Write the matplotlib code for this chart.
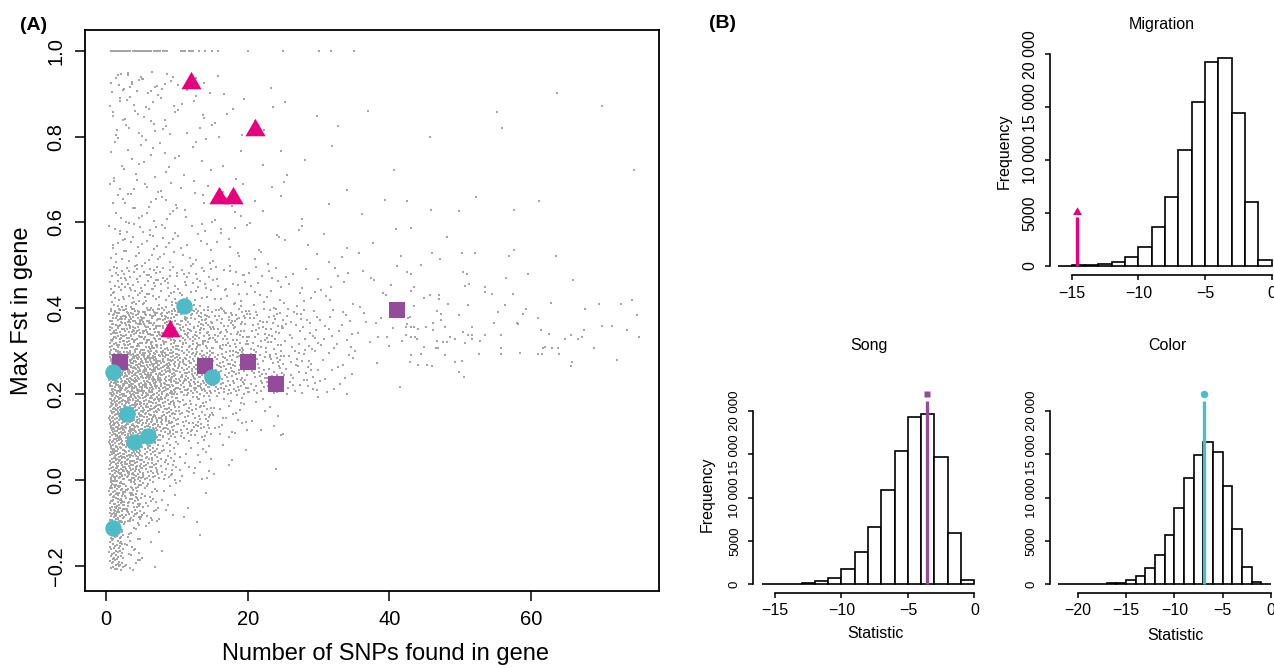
import numpy as np
import matplotlib
matplotlib.use("Agg")
import matplotlib.pyplot as plt
from matplotlib.path import Path

plt.rcParams['font.family'] = ['Liberation Sans', 'DejaVu Sans']

# ---------------- DATA ----------------
# Panel A: highlighted genes
tri_x = [12, 21, 16, 18, 9]
tri_y = [0.925, 0.816, 0.658, 0.658, 0.347]
sq_x = [2, 14, 20, 24, 41]
sq_y = [0.275, 0.265, 0.274, 0.223, 0.397]
circ_x = [11, 1, 15, 3, 6, 4, 1]
circ_y = [0.406, 0.252, 0.240, 0.153, 0.104, 0.088, -0.112]

# Panel A background genes: density (count of genes) per cell
cloud_x_edges = [0.5, 2.5, 5, 7.5, 10, 15, 20, 25, 30, 35, 41.5]
cloud_y_edges = [-0.21, -0.1, 0.0, 0.1, 0.2, 0.3, 0.4, 0.5, 0.6, 0.7, 0.8, 0.9, 0.95]
cloud_counts = [
    [69, 25, 5, 1, 1, 0, 0, 0, 0, 0],
    [90, 68, 27, 9, 5, 0, 0, 0, 0, 0],
    [99, 103, 64, 32, 23, 5, 1, 0, 0, 0],
    [108, 125, 103, 73, 78, 27, 9, 2, 0, 0],
    [112, 137, 125, 103, 146, 91, 65, 35, 15, 2],
    [70, 85, 80, 70, 110, 80, 55, 32, 18, 12],
    [25, 30, 28, 25, 35, 25, 18, 12, 9, 8],
    [12, 14, 13, 11, 15, 10, 7, 5, 4, 3],
    [8, 9, 9, 8, 10, 7, 4, 2, 2, 2],
    [5, 6, 5, 5, 7, 4, 2, 2, 1, 1],
    [8, 9, 9, 7, 9, 6, 3, 2, 1, 1],
    [7, 9, 7, 5, 5, 1, 1, 0, 0, 0],
]
# genes with Fst = 1.0
top_x_edges = [0.5, 2.5, 5, 7.5, 8.7, 10, 12.3]
top_counts = [9, 11, 11, 5, 0, 6]
top_single_x = [13.2, 14.0, 15.0, 15.8, 20.0, 25.0, 30.0, 31.8, 35.0]
top_fst = 1.0
# sparse genes with many SNPs (read individually)
sparse_x = [63.6, 69.9, 55.2, 55.8, 45.7, 74.5, 42.4, 52.2, 61.1, 45.8, 49.8, 57.5,
            43.0, 48.1, 41.6, 46.0, 47.1, 50.2, 52.0, 57.5, 56.8, 63.5, 44.4, 42.4,
            43.1, 50.3, 50.9, 56.4, 59.5, 65.9, 50.6, 51.2, 53.4, 53.4, 54.4, 57.4,
            43.4, 43.1, 45.7, 47.0, 44.8, 47.0, 48.2, 51.0, 56.3, 62.8, 69.5, 72.6,
            74.2, 43.4, 46.7, 47.2, 49.8, 55.3, 58.8, 59.2, 67.6, 74.9, 42.9, 42.6,
            47.2, 46.2, 54.7, 58.0, 58.1, 60.9, 69.9, 71.4, 42.4, 42.3, 43.1, 43.4,
            44.0, 45.1, 46.2, 47.8, 51.6, 61.3, 67.4, 73.5, 50.3, 51.0, 51.7, 53.4,
            55.7, 62.5, 65.6, 42.3, 43.1, 43.6, 43.9, 48.6, 49.2, 51.6, 64.7, 66.6,
            67.1, 75.2, 41.7, 46.7, 47.5, 48.1, 50.6, 52.7, 46.5, 46.8, 44.8, 55.7,
            61.6, 61.9, 62.9, 63.7, 68.8, 43.1, 44.4, 47.8, 52.6, 55.7, 58.4, 60.9,
            61.5, 63.9, 42.9, 44.0, 45.3, 46.0, 49.2, 50.2, 65.7, 65.6, 72.1, 49.8,
            50.5]
sparse_y = [0.902, 0.870, 0.856, 0.821, 0.800, 0.723, 0.649, 0.660, 0.651, 0.630, 0.626, 0.630,
            0.586, 0.567, 0.521, 0.528, 0.516, 0.528, 0.528, 0.537, 0.521, 0.521, 0.500, 0.484,
            0.479, 0.484, 0.479, 0.470, 0.479, 0.465, 0.453, 0.456, 0.449, 0.437, 0.433, 0.433,
            0.449, 0.440, 0.430, 0.430, 0.423, 0.421, 0.409, 0.407, 0.407, 0.412, 0.409, 0.409,
            0.419, 0.405, 0.395, 0.386, 0.384, 0.391, 0.388, 0.398, 0.398, 0.384, 0.381, 0.377,
            0.374, 0.367, 0.367, 0.367, 0.363, 0.377, 0.360, 0.358, 0.363, 0.356, 0.356, 0.356,
            0.351, 0.356, 0.349, 0.356, 0.356, 0.349, 0.349, 0.349, 0.344, 0.337, 0.337, 0.337,
            0.337, 0.340, 0.337, 0.337, 0.333, 0.333, 0.328, 0.333, 0.328, 0.328, 0.328, 0.328,
            0.333, 0.333, 0.323, 0.323, 0.321, 0.321, 0.319, 0.323, 0.307, 0.307, 0.309, 0.307,
            0.307, 0.309, 0.307, 0.307, 0.307, 0.291, 0.293, 0.291, 0.293, 0.293, 0.295, 0.293,
            0.293, 0.293, 0.274, 0.267, 0.267, 0.265, 0.274, 0.277, 0.274, 0.265, 0.279, 0.251,
            0.240]

# Panel B: null distributions (histogram counts per unit-width bin)
mig_edges = [-16, -15, -14, -13, -12, -11, -10, -9, -8, -7, -6, -5, -4, -3, -2, -1, 0]
mig_counts = [10, 20, 50, 120, 320, 790, 1740, 3690, 6530, 10950, 15460, 19240,
              19620, 14480, 6000, 570]
mig_stat, mig_line_top, mig_mark_y = -14.6, 4600, 5100

song_edges = [-16, -15, -14, -13, -12, -11, -10, -9, -8, -7, -6, -5, -4, -3, -2, -1, 0]
song_counts = [10, 25, 60, 150, 350, 770, 1800, 3770, 6650, 10880, 15420, 19300,
               19650, 14730, 5960, 500]
song_stat, song_line_top, song_mark_y = -3.6, 21100, 21900

col_edges = [-22, -21, -20, -19, -18, -17, -16, -15, -14, -13, -12, -11, -10, -9,
             -8, -7, -6, -5, -4, -3, -2, -1, 0]
col_counts = [2, 5, 10, 20, 50, 100, 200, 460, 960, 1880, 3350, 5650, 8770, 12300,
              14960, 16420, 15230, 11350, 6350, 2000, 270, 20]
col_stat, col_line_top, col_mark_y = -6.9, 21100, 22000

freq_ticks = [0, 5000, 10000, 15000, 20000]
freq_labels = ['0', '5000', '10 000', '15 000', '20 000']

PINK = '#E6007E'
PURPLE = '#944B9A'
CYAN = '#4FBBC6'
GRAY = '#A6A6A6'

# ---------------- FIGURE ----------------
W, H = 1274, 668
fig = plt.figure(figsize=(W / 100, H / 100), dpi=100)


def fx(px):
    return px / W


def fy(py):
    return 1 - py / H


def halton(i, b):
    f, r = 1.0, 0.0
    while i > 0:
        f /= b
        r += f * (i % b)
        i //= b
    return r


# triangle marker (centroid centered, like R pch 17)
tri_path = Path([(-1, -0.577), (1, -0.577), (0, 1.155), (-1, -0.577)],
                [Path.MOVETO, Path.LINETO, Path.LINETO, Path.CLOSEPOLY])

# ---------- Panel A ----------
axA = fig.add_axes([fx(84.5), fy(591), (659 - 84.5) / W, (591 - 30) / H])
axA.set_xlim(-3, 78)
axA.set_ylim(-0.258, 1.048)

# lay out background genes inside their density cells
cx, cy = [], []
idx = 1
for r, row in enumerate(cloud_counts):
    y0, y1 = cloud_y_edges[r], cloud_y_edges[r + 1]
    for c, n in enumerate(row):
        x0, x1 = cloud_x_edges[c], cloud_x_edges[c + 1]
        for _ in range(n):
            cx.append(x0 + halton(idx, 2) * (x1 - x0))
            cy.append(y0 + halton(idx, 3) * (y1 - y0))
            idx += 1
for c, n in enumerate(top_counts):
    x0, x1 = top_x_edges[c], top_x_edges[c + 1]
    for _ in range(n):
        cx.append(x0 + halton(idx, 2) * (x1 - x0))
        cy.append(top_fst)
        idx += 1
cx += top_single_x
cy += [top_fst] * len(top_single_x)
cx += sparse_x
cy += sparse_y

axA.scatter(cx, cy, s=3.4, marker='s', c=GRAY, linewidths=0, zorder=1)
axA.scatter(tri_x, tri_y, s=280, marker=tri_path, c=PINK, linewidths=0, zorder=3)
axA.scatter(sq_x, sq_y, s=135, marker='s', c=PURPLE, linewidths=0, zorder=3)
axA.scatter(circ_x, circ_y, s=140, marker='o', c=CYAN, linewidths=0, zorder=3)

axA.set_xticks([0, 20, 40, 60])
axA.set_xticklabels(['0', '20', '40', '60'])
yt = [-0.2, 0.0, 0.2, 0.4, 0.6, 0.8, 1.0]
axA.set_yticks(yt)
axA.set_yticklabels(['\u22120.2', '0.0', '0.2', '0.4', '0.6', '0.8', '1.0'])
axA.tick_params(axis='both', direction='out', length=7.5, width=1.1, labelsize=14.5)
axA.tick_params(axis='x', pad=6)
axA.tick_params(axis='y', pad=6, labelrotation=90)
for lab in axA.get_yticklabels():
    lab.set_va('center')
for s in axA.spines.values():
    s.set_linewidth(1.3)

fig.text(fx(22), fy(310.5), 'Max Fst in gene', rotation=90, ha='center', va='center', fontsize=17)
fig.text(fx(385), fy(654), 'Number of SNPs found in gene', ha='center', va='center', fontsize=17)
fig.text(fx(34), fy(25), '(A)', ha='center', va='center', fontsize=14, fontweight='bold')
fig.text(fx(723), fy(24), '(B)', ha='center', va='center', fontsize=14, fontweight='bold')


# ---------- Panel B ----------
def hist_axes(xlim, ylim, xref, pxref, ppux, yref, pyref, ppuy):
    left = pxref + (xlim[0] - xref) * ppux
    right = pxref + (xlim[1] - xref) * ppux
    bottom = pyref + (yref - ylim[0]) * ppuy
    top = pyref - (ylim[1] - yref) * ppuy
    ax = fig.add_axes([fx(left), fy(bottom), (right - left) / W, (bottom - top) / H])
    ax.set_xlim(*xlim)
    ax.set_ylim(*ylim)
    return ax


def draw_hist(ax, edges, counts, xticks, stat, line_top, mark_y, color, marker, ms, ysize):
    edges = np.asarray(edges, dtype=float)
    ax.bar(edges[:-1], counts, width=np.diff(edges), align='edge',
           facecolor='white', edgecolor='black', linewidth=1.2, zorder=2)
    ax.plot([stat, stat], [0, line_top], color=color, lw=2.4, solid_capstyle='butt', zorder=3)
    ax.plot([stat], [mark_y], marker=marker, ms=ms, color=color, mec='none',
            clip_on=False, zorder=3)
    for side in ('top', 'right'):
        ax.spines[side].set_visible(False)
    ax.spines['left'].set_bounds(0, 20000)
    ax.spines['bottom'].set_bounds(xticks[0], xticks[-1])
    for side in ('left', 'bottom'):
        ax.spines[side].set_linewidth(1.2)
    ax.set_xticks(xticks)
    ax.set_xticklabels([('\u2212%d' % -t) if t < 0 else '%d' % t for t in xticks])
    ax.set_yticks(freq_ticks)
    ax.set_yticklabels(freq_labels)
    ax.tick_params(axis='both', direction='out', length=3.8, width=1.1)
    ax.tick_params(axis='x', pad=4, labelsize=11.5)
    ax.tick_params(axis='y', pad=5, labelrotation=90, labelsize=ysize)
    for lab in ax.get_yticklabels():
        lab.set_va('center')
    ax.patch.set_alpha(0)


axM = hist_axes((-16.64, 0.64), (-880, 22600), -15, 1071.7, 13.33, 0, 265.7, 0.01057)
draw_hist(axM, mig_edges, mig_counts, [-15, -10, -5, 0], mig_stat, mig_line_top,
          mig_mark_y, PINK, tri_path, 7.5, 11.5)

axS = hist_axes((-16.64, 0.64), (-960, 21900), -15, 775, 13.29, 0, 584.3, 0.00867)
draw_hist(axS, song_edges, song_counts, [-15, -10, -5, 0], song_stat, song_line_top,
          song_mark_y, PURPLE, 's', 5.0, 9.5)

axC = hist_axes((-22.88, 0.88), (-960, 21900), -20, 1077.7, 9.665, 0, 584.3, 0.00867)
draw_hist(axC, col_edges, col_counts, [-20, -15, -10, -5, 0], col_stat, col_line_top,
          col_mark_y, CYAN, 'o', 5.4, 9.5)

fig.text(fx(1162), fy(24), 'Migration', ha='center', va='center', fontsize=11.5)
fig.text(fx(869), fy(345), 'Song', ha='center', va='center', fontsize=11.5)
fig.text(fx(1167), fy(345), 'Color', ha='center', va='center', fontsize=11.5)
fig.text(fx(1004.5), fy(151), 'Frequency', rotation=90, ha='center', va='center', fontsize=11.5)
fig.text(fx(707), fy(494), 'Frequency', rotation=90, ha='center', va='center', fontsize=11.5)
fig.text(fx(875), fy(634), 'Statistic', ha='center', va='center', fontsize=11.5)
fig.text(fx(1175), fy(635), 'Statistic', ha='center', va='center', fontsize=11.5)

fig.savefig('out.png', dpi=100)
